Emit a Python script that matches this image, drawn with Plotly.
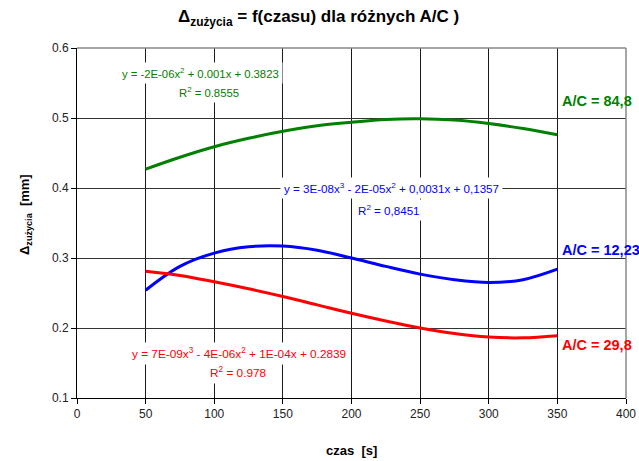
import plotly.graph_objects as go

x_vals = [50, 75, 100, 125, 150, 175, 200, 225, 250, 275, 300, 325, 350]
green_vals = [0.427, 0.444, 0.459, 0.471, 0.481, 0.489, 0.494, 0.498, 0.499, 0.497, 0.492, 0.485, 0.476]
blue_vals = [0.254, 0.288, 0.307, 0.316, 0.317, 0.311, 0.300, 0.288, 0.277, 0.269, 0.265, 0.269, 0.284]
red_vals = [0.281, 0.275, 0.266, 0.256, 0.245, 0.233, 0.221, 0.210, 0.200, 0.192, 0.187, 0.186, 0.189]

x_ticks = [0, 50, 100, 150, 200, 250, 300, 350, 400]
y_ticks = [0.1, 0.2, 0.3, 0.4, 0.5, 0.6]
y_tick_labels = ["0.1", "0.2", "0.3", "0.4", "0.5", "0.6"]

FONT = "Arial, Liberation Sans, sans-serif"
GREEN = "#008000"
BLUE = "#0000FF"
RED = "#FF0000"

fig = go.Figure()
for vals, col in [(green_vals, GREEN), (blue_vals, BLUE), (red_vals, RED)]:
    fig.add_trace(go.Scatter(x=x_vals, y=vals, mode="lines",
                             line=dict(color=col, width=3, shape="spline", smoothing=1.0),
                             showlegend=False, hoverinfo="skip"))

fig.update_layout(
    width=639, height=461,
    margin=dict(l=77, r=13, t=48, b=63),
    paper_bgcolor="white", plot_bgcolor="white",
    font=dict(family=FONT, size=12, color="#000"),
    showlegend=False,
)
fig.update_xaxes(range=[0, 400], tickvals=x_ticks, showgrid=True, gridcolor="#1a1a1a", gridwidth=1,
                 showline=True, linecolor="#000", linewidth=1, ticks="outside", ticklen=5,
                 tickcolor="#000", tickfont=dict(size=12, color="#222"), zeroline=False,
                 automargin=False)
fig.update_yaxes(range=[0.1, 0.6], tickvals=y_ticks, ticktext=y_tick_labels, showgrid=True,
                 gridcolor="#333", gridwidth=1, showline=True, linecolor="#000", linewidth=1,
                 ticks="outside", ticklen=5, tickcolor="#000",
                 tickfont=dict(size=12, color="#222"), zeroline=False, automargin=False)

# plot-area border (top / right) in grey
fig.add_shape(type="line", xref="paper", yref="paper", x0=1, x1=1, y0=0, y1=1,
              line=dict(color="#888", width=1.5))
fig.add_shape(type="line", xref="paper", yref="paper", x0=0, x1=1, y0=1, y1=1,
              line=dict(color="#888", width=1.5))

ann = []
# title
ann.append(dict(text="<b>Δ<sub>zużycia</sub> = f(czasu) dla różnych A/C )</b>", xref="paper", yref="paper",
                x=0.44, y=1.0, yshift=30, xanchor="center", yanchor="middle", showarrow=False,
                font=dict(size=17, color="#000")))
# axis titles
ann.append(dict(text="<b>czas  [s]</b>", xref="paper", yref="paper", x=0.5, y=0, yshift=-52,
                xanchor="center", yanchor="middle", showarrow=False, font=dict(size=13, color="#000")))
ann.append(dict(text="<b>Δ<sub>zużycia</sub>  [mm]</b>", xref="paper", yref="paper", x=0, y=0.5,
                xshift=-52, yshift=8, textangle=-90, xanchor="center", yanchor="middle", showarrow=False,
                font=dict(size=13, color="#000")))


def eq(text, x, y, col, size=11.3):
    ann.append(dict(text=text, x=x, y=y, xref="x", yref="y", showarrow=False,
                    xanchor="center", yanchor="middle", bgcolor="white", borderpad=3,
                    font=dict(size=size, color=col)))


eq("y = -2E-06x<sup>2</sup> + 0.001x + 0.3823", 90, 0.564, GREEN)
eq("R<sup>2</sup> = 0.8555", 96.5, 0.537, GREEN)
eq("y = 3E-08x<sup>3</sup> - 2E-05x<sup>2</sup> + 0,0031x + 0,1357", 229, 0.4, BLUE, 11.6)
eq("R<sup>2</sup> = 0,8451", 227, 0.369, BLUE, 11.6)
eq("y = 7E-09x<sup>3</sup> - 4E-06x<sup>2</sup> + 1E-04x + 0.2839", 118, 0.164, RED, 11.8)
eq("R<sup>2</sup> = 0.978", 118, 0.136, RED, 11.8)


def lab(text, y, col):
    ann.append(dict(text="<b>" + text + "</b>", x=352, y=y, xref="x", yref="y", showarrow=False,
                    xanchor="left", yanchor="middle", font=dict(size=14.5, color=col)))


lab("A/C = 84,8", 0.524, GREEN)
lab("A/C = 12,23", 0.311, BLUE)
lab("A/C = 29,8", 0.176, RED)

fig.update_layout(annotations=ann)
fig.write_html("out.html", config={"displayModeBar": False},
               post_script="document.body.style.margin='0';document.body.style.overflow='hidden';")
